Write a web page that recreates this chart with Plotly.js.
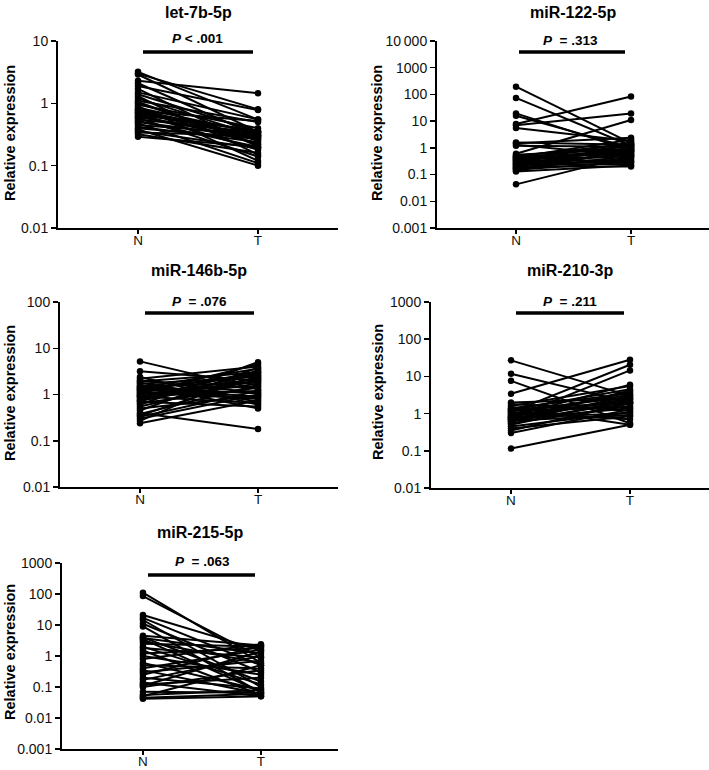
<!DOCTYPE html>
<html>
<head>
<meta charset="utf-8">
<script src="https://cdn.plot.ly/plotly-3.0.1.min.js"></script>
<style>html,body{margin:0;padding:0;background:#fff;}#chart{width:709px;height:770px;}</style>
</head>
<body>
<div id="chart"></div>
<script>
// ---- data ----
const groups = ["N", "T"];
const titles = ["let-7b-5p", "miR-122-5p", "miR-146b-5p", "miR-210-3p", "miR-215-5p"];
const pTexts = ["<b><i>P</i> &lt; .001</b>", "<b><i>P</i>  = .313</b>", "<b><i>P</i>  = .076</b>", "<b><i>P</i>  = .211</b>", "<b><i>P</i>  = .063</b>"];
const yTitle = "Relative expression";

const let7b_N = [3.2, 3.0, 2.9, 2.3, 2.1, 1.9, 1.7, 1.5, 1.4, 1.3, 1.2, 1.1, 1.05, 1.0, 0.95, 0.9, 0.85, 0.8, 0.78, 0.75, 0.72, 0.7, 0.68, 0.65, 0.62, 0.6, 0.58, 0.55, 0.52, 0.5, 0.48, 0.45, 0.42, 0.4, 0.38, 0.36, 0.34, 0.32, 0.29];
const let7b_T = [0.55, 0.8, 0.35, 1.45, 0.3, 0.78, 0.2, 0.55, 0.35, 0.15, 0.3, 0.5, 0.22, 0.25, 0.4, 0.12, 0.33, 0.28, 0.22, 0.52, 0.36, 0.3, 0.18, 0.36, 0.26, 0.31, 0.14, 0.34, 0.2, 0.28, 0.11, 0.32, 0.24, 0.27, 0.1, 0.19, 0.3, 0.16, 0.2];

const mir122_N = [195, 74, 19.5, 16, 7.8, 7, 5.5, 1.6, 1.5, 1.3, 1.2, 0.6, 0.55, 0.5, 0.48, 0.45, 0.42, 0.4, 0.38, 0.36, 0.34, 0.32, 0.3, 0.28, 0.27, 0.25, 0.24, 0.22, 0.2, 0.19, 0.18, 0.17, 0.16, 0.15, 0.14, 0.13, 0.043];
const mir122_T = [1.5, 1.2, 0.8, 1.0, 83, 19.5, 1.8, 1.3, 2.4, 0.5, 1.1, 11, 0.9, 1.4, 0.7, 2.0, 0.6, 1.2, 0.45, 0.8, 1.6, 0.35, 1.0, 0.55, 0.3, 0.9, 0.25, 0.65, 0.2, 1.3, 0.4, 0.75, 0.5, 0.3, 0.85, 0.22, 0.5];

const mir146b_N = [5.2, 3.2, 2.4, 2.2, 2.0, 1.9, 1.8, 1.7, 1.6, 1.5, 1.4, 1.35, 1.3, 1.2, 1.1, 1.05, 1.0, 0.95, 0.9, 0.85, 0.8, 0.75, 0.7, 0.65, 0.6, 0.55, 0.5, 0.45, 0.4, 0.38, 0.35, 0.3, 0.27, 0.24, 1.25, 0.92, 1.15, 0.72, 1.45, 0.33];
const mir146b_T = [1.3, 2.0, 0.6, 4.0, 1.1, 3.0, 0.7, 2.4, 0.5, 1.8, 3.6, 0.9, 2.6, 1.5, 0.8, 4.5, 2.2, 1.2, 0.65, 3.2, 1.7, 2.8, 0.55, 1.4, 5.0, 2.1, 0.95, 3.8, 0.18, 1.6, 2.5, 1.0, 3.4, 0.75, 2.9, 1.9, 0.85, 2.3, 1.05, 1.2];

const mir210_N = [27, 11.8, 7.6, 3.4, 2.0, 1.8, 1.6, 1.5, 1.4, 1.3, 1.25, 1.2, 1.15, 1.1, 1.05, 1.0, 0.95, 0.9, 0.85, 0.8, 0.78, 0.75, 0.72, 0.7, 0.68, 0.65, 0.62, 0.6, 0.55, 0.5, 0.45, 0.4, 0.35, 0.3, 0.115];
const mir210_T = [3.0, 2.0, 0.55, 28, 2.5, 1.2, 5.5, 0.5, 3.5, 2.0, 4.5, 1.5, 2.8, 20.6, 0.7, 3.2, 1.8, 2.2, 6.0, 1.0, 3.8, 14.5, 2.6, 1.4, 4.2, 0.9, 2.0, 3.0, 1.6, 2.4, 1.1, 0.85, 1.9, 1.3, 0.5];

const mir215_N = [110, 86, 21, 17, 14.5, 11, 9, 4.5, 4.0, 3.8, 3.5, 3.0, 2.5, 2.0, 1.8, 1.5, 1.2, 1.0, 0.8, 0.6, 0.5, 0.4, 0.35, 0.3, 0.25, 0.2, 0.17, 0.14, 0.12, 0.11, 0.1, 0.07, 0.055, 0.05, 0.045, 0.042];
const mir215_T = [0.6, 0.9, 1.5, 0.5, 0.1, 0.3, 0.065, 2.2, 0.15, 1.2, 0.07, 0.6, 2.0, 0.12, 0.9, 0.055, 1.8, 0.25, 2.4, 0.08, 0.4, 1.6, 0.06, 0.7, 2.1, 0.09, 1.0, 0.05, 0.2, 1.4, 0.35, 0.065, 0.08, 0.5, 0.06, 0.05];

const yTickVals = [
  [0.01, 0.1, 1, 10],
  [0.001, 0.01, 0.1, 1, 10, 100, 1000, 10000],
  [0.01, 0.1, 1, 10, 100],
  [0.01, 0.1, 1, 10, 100, 1000],
  [0.001, 0.01, 0.1, 1, 10, 100, 1000]
];
const yTickText = [
  ["0.01", "0.1", "1", "10"],
  ["0.001", "0.01", "0.1", "1", "10", "100", "1000", "10\u2009000"],
  ["0.01", "0.1", "1", "10", "100"],
  ["0.01", "0.1", "1", "10", "100", "1000"],
  ["0.001", "0.01", "0.1", "1", "10", "100", "1000"]
];
const seriesN = [let7b_N, mir122_N, mir146b_N, mir210_N, mir215_N];
const seriesT = [let7b_T, mir122_T, mir146b_T, mir210_T, mir215_T];

// ---- layout geometry (pixels) ----
const W = 709, H = 770;
const panels = [
  {x: [58, 338], y: [41, 228], yr: [-2, 1], xr: [-0.667, 1.667], tx: 198, ty: 12, px: 197, py: 38, bar: [143, 253, 52], ax: 10, ay: 133},
  {x: [437, 709], y: [41, 228], yr: [-3, 4], xr: [-0.687, 1.678], tx: 573, ty: 12, px: 570, py: 40, bar: [519, 625, 52], ax: 377, ay: 133},
  {x: [60, 338], y: [302, 487], yr: [-2, 2], xr: [-0.678, 1.678], tx: 199, ty: 270, px: 199, py: 301, bar: [145, 254, 313], ax: 10, ay: 393},
  {x: [431, 709], y: [302, 488], yr: [-2, 3], xr: [-0.672, 1.664], tx: 570, ty: 270, px: 570, py: 301, bar: [516, 624, 313], ax: 378, ay: 392},
  {x: [62, 338], y: [563, 749], yr: [-3, 3], xr: [-0.686, 1.653], tx: 200, ty: 532, px: 202, py: 561, bar: [148, 255, 575], ax: 10, ay: 652}
];

const FONT = "Liberation Sans, Arial, Helvetica, sans-serif";
const traces = [];
const layout = {
  width: W, height: H,
  margin: {l: 0, r: 0, t: 0, b: 0},
  paper_bgcolor: "#fff", plot_bgcolor: "#fff",
  showlegend: false,
  font: {family: FONT, color: "#111", size: 14},
  annotations: [], shapes: []
};

panels.forEach((p, i) => {
  const k = i === 0 ? "" : String(i + 1);
  const xs = [], ys = [];
  seriesN[i].forEach((n, j) => {
    xs.push(0, 1, null);
    ys.push(n, seriesT[i][j], null);
  });
  traces.push({
    type: "scatter", mode: "lines+markers",
    x: xs, y: ys, xaxis: "x" + k, yaxis: "y" + k,
    line: {color: "#000", width: 2},
    marker: {color: "#000", size: 6.5},
    hoverinfo: "skip", connectgaps: false, cliponaxis: false
  });
  layout["xaxis" + k] = {
    domain: [p.x[0] / W, p.x[1] / W],
    anchor: "y" + k,
    range: p.xr,
    tickvals: [0, 1], ticktext: groups,
    showline: true, linecolor: "#000", linewidth: 2,
    ticks: "outside", ticklen: 4, tickwidth: 1.5, tickcolor: "#000",
    ticklabelstandoff: -5,
    showgrid: false, zeroline: false,
    tickfont: {family: FONT, size: 13.5, color: "#111"}
  };
  layout["yaxis" + k] = {
    domain: [1 - p.y[1] / H, 1 - p.y[0] / H],
    anchor: "x" + k,
    type: "log", range: p.yr,
    tickvals: yTickVals[i], ticktext: yTickText[i],
    showline: true, linecolor: "#000", linewidth: 2,
    ticks: "outside", ticklen: 5, tickwidth: 1.5, tickcolor: "#000",
    showgrid: false, zeroline: false,
    tickfont: {family: FONT, size: 14, color: "#111"}
  };
  layout.annotations.push({
    xref: "paper", yref: "paper", x: p.tx / W, y: 1 - p.ty / H,
    xanchor: "center", yanchor: "middle", showarrow: false,
    text: "<b>" + titles[i] + "</b>", font: {family: FONT, size: 16, color: "#000"}
  });
  layout.annotations.push({
    xref: "paper", yref: "paper", x: p.px / W, y: 1 - p.py / H,
    xanchor: "center", yanchor: "middle", showarrow: false,
    text: pTexts[i], font: {family: FONT, size: 13.5, color: "#000"}
  });
  layout.annotations.push({
    xref: "paper", yref: "paper", x: p.ax / W, y: 1 - p.ay / H,
    xanchor: "center", yanchor: "middle", showarrow: false, textangle: -90,
    text: "<b>" + yTitle + "</b>", font: {family: FONT, size: 14.5, color: "#000"}
  });
  layout.shapes.push({
    type: "line", xref: "paper", yref: "paper",
    x0: p.bar[0] / W, x1: p.bar[1] / W, y0: 1 - p.bar[2] / H, y1: 1 - p.bar[2] / H,
    line: {color: "#000", width: 3.5}
  });
});

Plotly.newPlot("chart", traces, layout, {staticPlot: true, displayModeBar: false});
</script>
</body>
</html>
